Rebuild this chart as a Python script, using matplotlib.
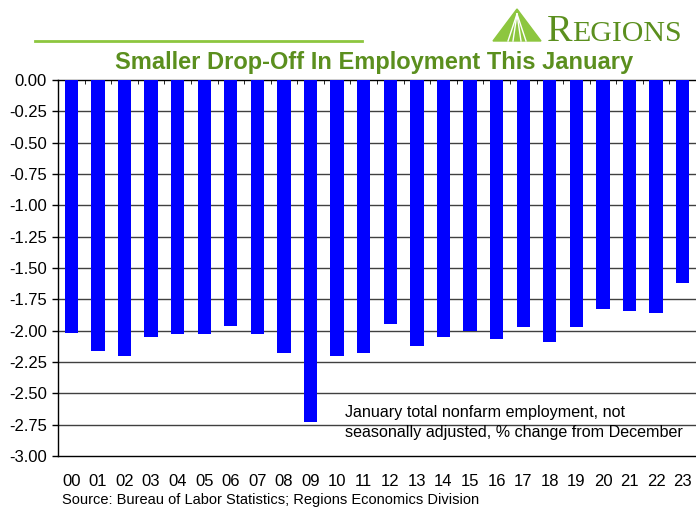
import matplotlib.pyplot as plt
from matplotlib.patches import Polygon
from matplotlib.lines import Line2D

# January nonfarm employment, % change from December
years = ['00', '01', '02', '03', '04', '05', '06', '07', '08', '09', '10', '11',
         '12', '13', '14', '15', '16', '17', '18', '19', '20', '21', '22', '23']
pct_change = [-2.02, -2.16, -2.20, -2.05, -2.03, -2.03, -1.96, -2.03, -2.18, -2.73,
              -2.20, -2.18, -1.95, -2.12, -2.05, -2.00, -2.07, -1.97, -2.09, -1.97,
              -1.83, -1.84, -1.86, -1.62]
y_ticks = [0.0, -0.25, -0.5, -0.75, -1.0, -1.25, -1.5, -1.75, -2.0, -2.25, -2.5, -2.75, -3.0]

plt.rcParams['font.family'] = ['Liberation Sans', 'DejaVu Sans']

W, H = 696, 508
fig = plt.figure(figsize=(6.96, 5.08), dpi=100)
ax = fig.add_axes([58 / W, 52 / H, 638 / W, 376 / H])

x = list(range(len(years)))
ax.bar(x, pct_change, width=0.5, color='#0000ff', zorder=3)

ax.set_xlim(-0.5, len(years) - 0.5)
ax.set_ylim(-3.0, 0.0)
ax.set_yticks(y_ticks)
ax.set_yticklabels([f'{v:.2f}' if v != 0 else '0.00' for v in y_ticks], fontsize=12)
for v in y_ticks[1:-1]:
    ax.axhline(v, color='#404040', lw=1.0, zorder=1)

ax.set_xticks(x)
ax.set_xticklabels(years, fontsize=12)
ax.tick_params(axis='x', which='major', length=0, pad=13)
ax.tick_params(axis='y', length=4, width=1, pad=4)
ax.set_xticks([i + 0.5 for i in x[:-1]], minor=True)
ax.tick_params(axis='x', which='minor', top=True, bottom=False, direction='in', length=3)

for side in ['left', 'bottom', 'top']:
    ax.spines[side].set_color('black')
    ax.spines[side].set_linewidth(1.0)
ax.spines['right'].set_visible(False)

fig.text(345 / W, 1 - 413 / H, 'January total nonfarm employment, not',
         fontsize=11.6, va='center', ha='left')
fig.text(345 / W, 1 - 433 / H, 'seasonally adjusted, % change from December',
         fontsize=11.6, va='center', ha='left')

# header: title, rule and logo
fig.text(374 / W, 1 - 62 / H, 'Smaller Drop-Off In Employment This January',
         ha='center', va='center', fontsize=17, fontweight='bold', color='#5b8f1e')
fig.add_artist(Line2D([35 / W, 362 / W], [1 - 41 / H, 1 - 41 / H],
                      color='#8dc63f', lw=2, transform=fig.transFigure))
tri = Polygon([[493 / W, 1 - 41 / H], [517 / W, 1 - 9 / H], [541 / W, 1 - 41 / H]],
              closed=True, color='#8dc63f', transform=fig.transFigure)
fig.add_artist(tri)
for dx in [-9, -4, 4, 9]:
    fig.add_artist(Line2D([517 / W, (517 + dx) / W], [1 - 14 / H, 1 - 41 / H],
                          color='white', lw=1.0, transform=fig.transFigure))
fig.text(547 / W, 1 - 41 / H, 'R', fontsize=27.5, family='Liberation Serif',
         color='#5b8f1e', ha='left', va='baseline')
fig.text(572 / W, 1 - 41 / H, 'EGIONS', fontsize=21.5, family='Liberation Serif',
         color='#5b8f1e', ha='left', va='baseline')

fig.text(62 / W, 1 - 500 / H, 'Source: Bureau of Labor Statistics; Regions Economics Division',
         fontsize=10.5, ha='left', va='center')

fig.savefig('out.png', dpi=100)
